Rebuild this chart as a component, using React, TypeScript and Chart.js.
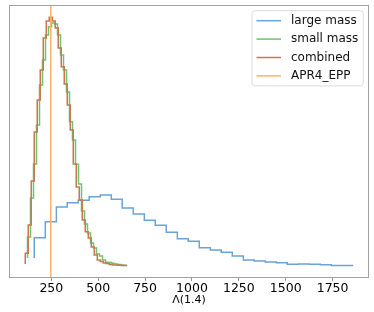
import React, { useEffect, useRef } from 'react';
import { Chart, registerables } from 'chart.js';

Chart.register(...registerables);

// Λ(1.4) step positions and densities (×1e-3)
const largeMassX = [159, 218, 277, 335, 394, 452, 511, 570, 628, 687, 746, 804, 863, 922, 980, 1039, 1098, 1156, 1215, 1274, 1332, 1391, 1450, 1508, 1567, 1626, 1684, 1743, 1802, 1860];
const largeMassY = [0.157, 0.578, 0.909, 1.213, 1.302, 1.352, 1.426, 1.461, 1.372, 1.192, 1.068, 0.938, 0.834, 0.689, 0.555, 0.503, 0.368, 0.323, 0.275, 0.199, 0.116, 0.095, 0.075, 0.060, 0.027, 0.033, 0.027, 0.019, 0.004, 0.002];

const smallMassX = [123, 139, 155, 171, 187, 203, 219, 235, 251, 267, 283, 299, 315, 331, 347, 363, 379, 395, 411, 427, 443, 459, 475, 491, 507, 523, 539, 555, 571, 587, 603, 619, 635, 651];
const smallMassY = [0.157, 0.592, 1.399, 2.103, 2.910, 3.738, 4.256, 4.773, 4.945, 5.022, 5.001, 4.773, 4.359, 4.049, 3.594, 2.979, 2.600, 2.097, 1.689, 1.130, 0.861, 0.675, 0.468, 0.364, 0.240, 0.199, 0.116, 0.068, 0.064, 0.048, 0.033, 0.023, 0.012, 0.006];

const combinedX = [111, 127, 143, 159, 175, 191, 207, 223, 239, 255, 271, 287, 303, 319, 335, 351, 367, 383, 399, 415, 431, 447, 463, 479, 495, 511, 527, 543, 559, 575, 591, 607, 623, 639, 655];
const combinedY = [0.033, 0.255, 0.840, 1.751, 2.766, 3.428, 4.049, 4.711, 5.063, 5.140, 5.063, 4.918, 4.504, 4.117, 3.759, 3.324, 2.807, 2.103, 1.627, 1.358, 0.944, 0.702, 0.571, 0.385, 0.219, 0.116, 0.085, 0.054, 0.043, 0.023, 0.012, 0.012, 0.006, 0.002, 0.001];

const apr4Lambda = 247;

const xTicks = [250, 500, 750, 1000, 1250, 1500, 1750];
const X_MIN = 24.4;
const X_MAX = 1944;
const Y_MIN = -0.257;
const Y_MAX = 5.394;

const FONT = '"DejaVu Sans", sans-serif';

const toPts = (xs: number[], ys: number[]) => xs.map((x, i) => ({ x, y: ys[i] }));

export default function App() {
  const ref = useRef<HTMLCanvasElement>(null);

  useEffect(() => {
    if (!ref.current) return;

    const framePlugin = {
      id: 'frame',
      afterDatasetsDraw(chart: any) {
        const { ctx, chartArea: a } = chart;
        ctx.save();
        ctx.strokeStyle = '#a0a0a0';
        ctx.lineWidth = 1;
        ctx.strokeRect(Math.round(a.left) + 0.5, Math.round(a.top) + 0.5, Math.round(a.right - a.left) - 1, Math.round(a.bottom - a.top) - 1);
        ctx.restore();
      },
    };

    const legendPlugin = {
      id: 'boxLegend',
      afterDraw(chart: any) {
        const { ctx, chartArea: a } = chart;
        const items = chart.data.datasets.map((d: any) => ({ label: d.label, color: d.borderColor }));
        ctx.save();
        ctx.font = `12px ${FONT}`;
        const textW = Math.max(...items.map((i: any) => ctx.measureText(i.label).width));
        const padL = 4.5, lineLen = 24.5, gap = 10, padR = 5, rowH = 18.4, padT = 10;
        const w = padL + lineLen + gap + textW + padR;
        const h = padT * 2 + rowH * (items.length - 1);
        const right = a.right - 5.7;
        const left = right - w;
        const top = a.top + 5.7;
        const r = 3;
        ctx.beginPath();
        ctx.moveTo(left + r, top);
        ctx.lineTo(right - r, top);
        ctx.arcTo(right, top, right, top + r, r);
        ctx.lineTo(right, top + h - r);
        ctx.arcTo(right, top + h, right - r, top + h, r);
        ctx.lineTo(left + r, top + h);
        ctx.arcTo(left, top + h, left, top + h - r, r);
        ctx.lineTo(left, top + r);
        ctx.arcTo(left, top, left + r, top, r);
        ctx.closePath();
        ctx.fillStyle = 'rgba(255,255,255,0.85)';
        ctx.fill();
        ctx.strokeStyle = '#dcdcdc';
        ctx.lineWidth = 1;
        ctx.stroke();
        items.forEach((it: any, i: number) => {
          const y = top + padT + rowH * i;
          ctx.strokeStyle = it.color;
          ctx.lineWidth = 1.5;
          ctx.beginPath();
          ctx.moveTo(left + padL, y);
          ctx.lineTo(left + padL + lineLen, y);
          ctx.stroke();
          ctx.fillStyle = '#111';
          ctx.textBaseline = 'middle';
          ctx.textAlign = 'left';
          ctx.fillText(it.label, left + padL + lineLen + gap, y);
        });
        ctx.restore();
      },
    };

    const chart = new Chart(ref.current, {
      type: 'line',
      data: {
        datasets: [
          { label: 'large mass', data: toPts(largeMassX, largeMassY), borderColor: '#6aa3d4', borderWidth: 1.5, stepped: 'after', order: 4, pointRadius: 0, fill: false },
          { label: 'small mass', data: toPts(smallMassX, smallMassY), borderColor: '#6cc46c', borderWidth: 1.5, stepped: 'after', order: 3, pointRadius: 0, fill: false },
          { label: 'combined', data: toPts(combinedX, combinedY), borderColor: '#c8784e', borderWidth: 1.5, stepped: 'after', order: 2, pointRadius: 0, fill: false },
          { label: 'APR4_EPP', data: [{ x: apr4Lambda, y: Y_MIN }, { x: apr4Lambda, y: Y_MAX }], borderColor: '#ffb36e', borderWidth: 1.5, order: 1, pointRadius: 0, fill: false },
        ] as any,
      },
      options: {
        responsive: false,
        animation: false,
        layout: { padding: { left: 9, top: 5, right: 5, bottom: 0 } },
        plugins: { legend: { display: false }, tooltip: { enabled: false }, title: { display: false } },
        scales: {
          x: {
            type: 'linear',
            min: X_MIN,
            max: X_MAX,
            afterBuildTicks: (s: any) => {
              s.ticks = xTicks.map((v) => ({ value: v }));
            },
            afterFit: (s: any) => {
              s.height = 34;
            },
            ticks: {
              autoSkip: false,
              maxRotation: 0,
              padding: 0,
              color: '#000',
              font: { family: FONT, size: 12.5 },
              callback: (v: any) => String(v),
            },
            grid: { display: true, drawOnChartArea: false, drawTicks: true, tickLength: 3, color: '#999' },
            border: { display: false },
            title: {
              display: true,
              text: 'Λ(1.4)',
              color: '#000',
              font: { family: FONT, size: 11 },
              padding: { top: 0, bottom: 5 },
            },
          },
          y: { type: 'linear', display: false, min: Y_MIN, max: Y_MAX },
        },
      } as any,
      plugins: [framePlugin, legendPlugin],
    });

    return () => chart.destroy();
  }, []);

  return (
    <div style={{ position: 'fixed', left: 0, top: 0, width: 374, height: 312, background: '#fff' }}>
      <canvas ref={ref} width={374} height={312} style={{ display: 'block' }} />
    </div>
  );
}
